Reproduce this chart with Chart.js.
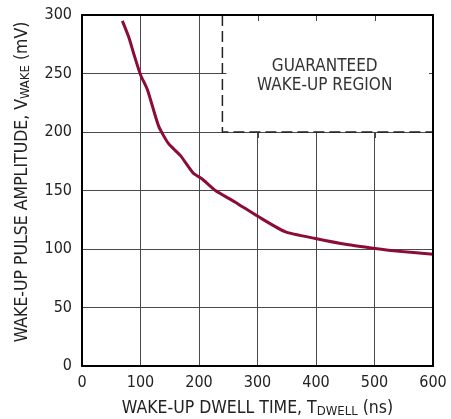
<!DOCTYPE html>
<html>
<head>
<meta charset="utf-8">
<script src="https://cdn.jsdelivr.net/npm/chart.js@4"></script>
<style>
  html, body { margin: 0; padding: 0; background: #fff; }
  #wrap { width: 451px; height: 419px; }
</style>
</head>
<body>
<div id="wrap"><canvas id="chart" width="451" height="419"></canvas></div>
<script>
// values
const dwellTime = [69, 80, 89, 100, 112, 131, 148, 168, 190, 205, 228, 262, 302, 348, 399, 453, 501, 533, 600];
const amplitude = [295, 281, 266, 249, 236, 205, 190, 180, 165, 160, 150, 140, 127.5, 114.6, 109, 103.8, 100.4, 98.4, 95.5];
const xTicks = [0, 100, 200, 300, 400, 500, 600];
const yTicks = [0, 50, 100, 150, 200, 250, 300];
// guaranteed region corner (ns, mV)
const regionTime = [240, 600];
const regionAmp = [200, 300];
const regionLabel = ['GUARANTEED', 'WAKE-UP REGION'];

const FONT = '"Liberation Sans Narrow", "DejaVu Sans Condensed", "Liberation Sans", sans-serif';
Chart.defaults.font.family = FONT;
Chart.defaults.font.size = 16;
Chart.defaults.color = '#222';

function subText(ctx, parts, x, y) {
  // parts: [text, isSub]
  let total = 0;
  parts.forEach(p => {
    ctx.font = (p[1] ? '13px ' : '17.5px ') + FONT;
    total += ctx.measureText(p[0]).width;
  });
  let cx = x - total / 2;
  parts.forEach(p => {
    ctx.font = (p[1] ? '13px ' : '17.5px ') + FONT;
    ctx.fillText(p[0], cx, p[1] ? y + 4 : y);
    cx += ctx.measureText(p[0]).width;
  });
}

const extras = {
  id: 'extras',
  beforeDatasetsDraw(chart) {
    const ctx = chart.ctx, xs = chart.scales.x, ys = chart.scales.y;
    const x0 = xs.getPixelForValue(regionTime[0]), x1 = xs.getPixelForValue(regionTime[1]);
    const y0 = ys.getPixelForValue(regionAmp[1]), y1 = ys.getPixelForValue(regionAmp[0]);
    ctx.save();
    ctx.fillStyle = '#fff';
    ctx.fillRect(x0, y0, x1 - x0, y1 - y0);
    // tick stubs inside region
    ctx.strokeStyle = '#444';
    ctx.lineWidth = 1;
    xTicks.forEach(t => {
      if (t > regionTime[0] && t < regionTime[1]) {
        const px = Math.round(xs.getPixelForValue(t)) + 0.5;
        ctx.beginPath(); ctx.moveTo(px, y0); ctx.lineTo(px, y0 + 6); ctx.stroke();
        ctx.beginPath(); ctx.moveTo(px, y1); ctx.lineTo(px, y1 + 6); ctx.stroke();
      }
    });
    yTicks.forEach(t => {
      if (t > regionAmp[0] && t < regionAmp[1]) {
        const py = Math.round(ys.getPixelForValue(t)) + 0.5;
        ctx.beginPath(); ctx.moveTo(x0, py); ctx.lineTo(x0 + 4, py); ctx.stroke();
        ctx.beginPath(); ctx.moveTo(x1, py); ctx.lineTo(x1 - 4, py); ctx.stroke();
      }
    });
    // dashed boundary
    ctx.strokeStyle = '#222';
    ctx.lineWidth = 1.5;
    ctx.setLineDash([11, 5]);
    ctx.beginPath();
    ctx.moveTo(x0, y0); ctx.lineTo(x0, y1); ctx.lineTo(x1, y1);
    ctx.stroke();
    ctx.setLineDash([]);
    ctx.fillStyle = '#333';
    ctx.font = '17px ' + FONT;
    ctx.textAlign = 'center';
    ctx.textBaseline = 'middle';
    const cx = (x0 + x1) / 2 - 3;
    ctx.fillText(regionLabel[0], cx, 67);
    ctx.fillText(regionLabel[1], cx, 86);
    ctx.restore();
  },
  afterDraw(chart) {
    const ctx = chart.ctx, a = chart.chartArea;
    ctx.save();
    ctx.strokeStyle = '#000';
    ctx.lineWidth = 2;
    ctx.strokeRect(a.left, a.top, a.right - a.left, a.bottom - a.top);
    ctx.fillStyle = '#222';
    ctx.textBaseline = 'middle';
    ctx.textAlign = 'left';
    subText(ctx, [['WAKE-UP DWELL TIME, T', false], ['DWELL', true], [' (ns)', false]], (a.left + a.right) / 2, 408);
    ctx.translate(22, 182);
    ctx.rotate(-Math.PI / 2);
    subText(ctx, [['WAKE-UP PULSE AMPLITUDE, V', false], ['WAKE', true], [' (mV)', false]], 0, 0);
    ctx.restore();
  }
};

new Chart(document.getElementById('chart'), {
  type: 'line',
  data: {
    datasets: [{
      data: dwellTime.map((t, i) => ({ x: t, y: amplitude[i] })),
      borderColor: '#8b0d36',
      borderWidth: 3,
      pointRadius: 0,
      tension: 0.2,
      fill: false
    }]
  },
  options: {
    responsive: false,
    animation: false,
    layout: { padding: { top: 15, right: 18, left: 0, bottom: 0 } },
    plugins: { legend: { display: false }, tooltip: { enabled: false } },
    scales: {
      x: {
        type: 'linear', min: 0, max: 600,
        afterBuildTicks: s => { s.ticks = xTicks.map(v => ({ value: v })); },
        afterFit: s => { s.height = 53; s.paddingLeft = 0; s.paddingRight = 0; },
        grid: { color: '#4a4a4a', lineWidth: 1, drawTicks: false },
        border: { color: '#000', width: 2 },
        ticks: { padding: 7, color: '#222', font: { size: 16 } }
      },
      y: {
        min: 0, max: 300,
        afterBuildTicks: s => { s.ticks = yTicks.map(v => ({ value: v })); },
        afterFit: s => { s.width = 82; s.paddingTop = 0; s.paddingBottom = 0; },
        grid: { color: '#4a4a4a', lineWidth: 1, drawTicks: false },
        border: { color: '#000', width: 2 },
        ticks: { padding: 10, color: '#222', font: { size: 16 } }
      }
    }
  },
  plugins: [extras]
});
</script>
</body>
</html>
